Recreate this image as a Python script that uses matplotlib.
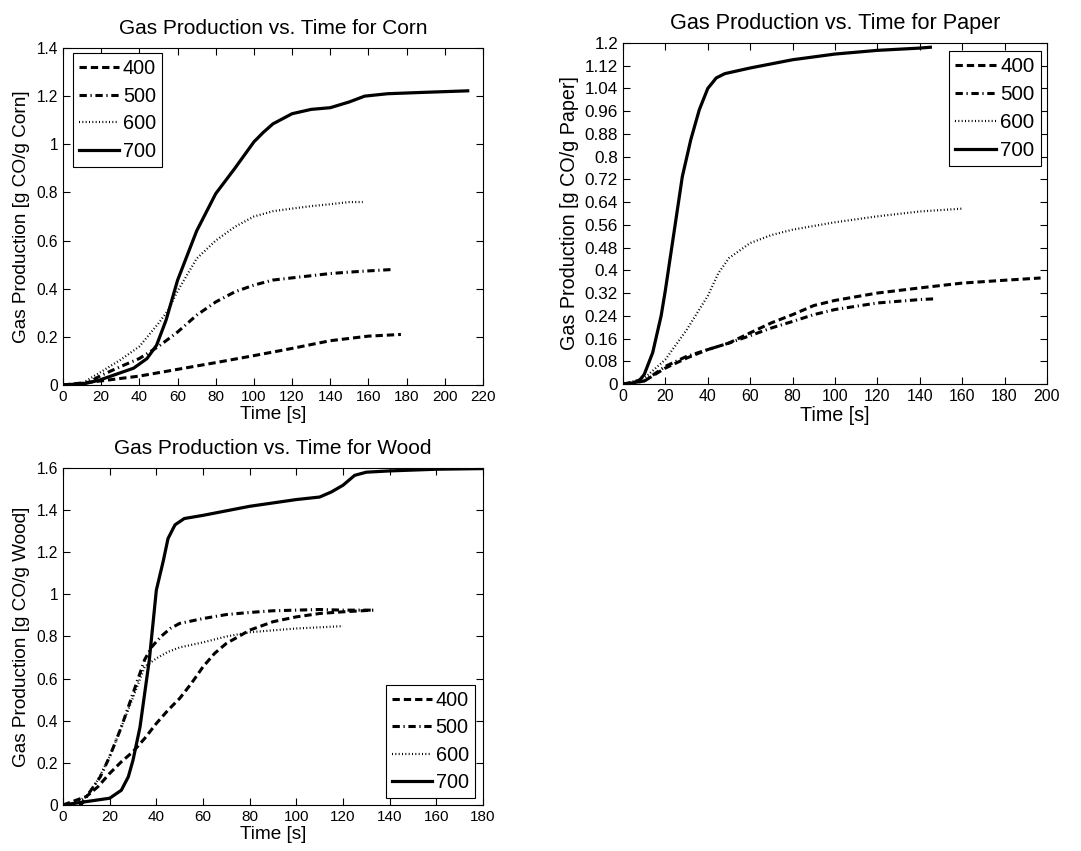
import matplotlib
matplotlib.use("Agg")
import matplotlib.pyplot as plt
import numpy as np

plt.rcParams['font.family'] = ['Liberation Sans', 'DejaVu Sans']

labels = ["400", "500", "600", "700"]

# ---- Corn ----
corn_t400 = [0, 20, 40, 60, 80, 100, 120, 140, 160, 177]
corn_y400 = [0, 0.017, 0.037, 0.065, 0.093, 0.122, 0.152, 0.184, 0.203, 0.21]
corn_t500 = [0, 12, 20, 30, 40, 50, 60, 70, 80, 90, 100, 110, 120, 130, 140, 150, 160, 173]
corn_y500 = [0, 0.005, 0.04, 0.076, 0.11, 0.16, 0.22, 0.29, 0.345, 0.387, 0.415, 0.436, 0.445, 0.454, 0.463, 0.469, 0.474, 0.48]
corn_t600 = [0, 10, 20, 30, 40, 50, 55, 60, 70, 80, 90, 100, 110, 120, 130, 140, 150, 157]
corn_y600 = [0, 0.007, 0.055, 0.104, 0.16, 0.256, 0.31, 0.39, 0.525, 0.6, 0.657, 0.7, 0.722, 0.733, 0.743, 0.751, 0.76, 0.76]
corn_t700 = [0, 12, 19, 37, 44, 49, 54, 60, 70, 80, 90, 100, 105, 110, 120, 130, 140, 150, 158, 170, 190, 212]
corn_y700 = [0, 0.007, 0.02, 0.07, 0.11, 0.165, 0.27, 0.435, 0.64, 0.795, 0.9, 1.01, 1.05, 1.085, 1.127, 1.145, 1.152, 1.176, 1.2, 1.21, 1.216, 1.222]

# ---- Paper ----
paper_t400 = [0, 10, 20, 30, 40, 50, 60, 70, 80, 90, 100, 120, 140, 160, 180, 197]
paper_y400 = [0, 0.01, 0.056, 0.091, 0.121, 0.144, 0.18, 0.215, 0.244, 0.276, 0.294, 0.32, 0.338, 0.355, 0.365, 0.373]
paper_t500 = [0, 10, 20, 30, 40, 50, 60, 70, 80, 90, 100, 120, 140, 148]
paper_y500 = [0, 0.01, 0.062, 0.097, 0.121, 0.144, 0.17, 0.197, 0.22, 0.244, 0.262, 0.285, 0.297, 0.30]
paper_t600 = [0, 10, 20, 30, 40, 45, 50, 60, 70, 80, 100, 120, 140, 160]
paper_y600 = [0, 0.02, 0.086, 0.19, 0.31, 0.39, 0.443, 0.496, 0.524, 0.543, 0.569, 0.59, 0.607, 0.617]
paper_t700 = [0, 5, 8, 10, 14, 18, 20, 24, 28, 32, 36, 40, 44, 48, 60, 80, 100, 120, 140, 145]
paper_y700 = [0, 0.004, 0.015, 0.033, 0.11, 0.24, 0.33, 0.53, 0.73, 0.86, 0.965, 1.04, 1.077, 1.092, 1.112, 1.141, 1.161, 1.174, 1.182, 1.185]

# ---- Wood ----
wood_t400 = [0, 10, 15, 20, 25, 30, 35, 40, 45, 50, 55, 60, 65, 70, 75, 80, 90, 100, 110, 120, 133]
wood_y400 = [0, 0.04, 0.087, 0.15, 0.205, 0.253, 0.316, 0.387, 0.45, 0.506, 0.577, 0.656, 0.72, 0.767, 0.798, 0.83, 0.87, 0.893, 0.909, 0.917, 0.925]
wood_t500 = [0, 8, 12, 16, 20, 25, 30, 35, 38, 42, 46, 50, 60, 70, 80, 90, 100, 110, 120, 132]
wood_y500 = [0, 0.005, 0.07, 0.134, 0.23, 0.37, 0.53, 0.69, 0.75, 0.8, 0.838, 0.862, 0.885, 0.904, 0.914, 0.922, 0.925, 0.928, 0.925, 0.925]
wood_t600 = [0, 5, 10, 15, 20, 25, 30, 35, 40, 45, 50, 60, 70, 80, 100, 120]
wood_y600 = [0, 0.008, 0.04, 0.12, 0.23, 0.37, 0.51, 0.656, 0.696, 0.727, 0.748, 0.772, 0.8, 0.82, 0.838, 0.849]
wood_t700 = [0, 10, 20, 25, 28, 30, 33, 35, 37, 40, 43, 45, 48, 52, 60, 80, 100, 110, 115, 120, 125, 130, 140, 160, 180]
wood_y700 = [0, 0.016, 0.032, 0.07, 0.134, 0.213, 0.37, 0.53, 0.69, 1.02, 1.16, 1.265, 1.33, 1.36, 1.375, 1.418, 1.45, 1.462, 1.486, 1.518, 1.565, 1.58, 1.586, 1.594, 1.597]

styles = [
    dict(linestyle=(0, (2.4, 1.3)), linewidth=2.2),
    dict(linestyle=(0, (2.4, 1.2, 0.4, 1.2)), linewidth=2.2),
    dict(linestyle=(0, (0.45, 1.05)), linewidth=1.6),
    dict(linestyle='-', linewidth=2.3),
]

fig = plt.figure(figsize=(10.81, 8.51), dpi=100)

def make_axes(rect, title, ylabel, series, xlim, xticks, ylim, yticks, legend_loc, legend_anchor,
              scale=1.0, ylabelpad=5):
    ax = fig.add_axes(rect)
    handles = []
    for (t, y), st, lab in zip(series, styles, labels):
        h, = ax.plot(t, y, color='black', label=lab, **st)
        handles.append(h)
    ax.set_xlim(*xlim)
    ax.set_ylim(*ylim)
    ax.set_xticks(xticks)
    ax.set_yticks(yticks)
    ax.set_yticklabels(["%g" % v for v in yticks])
    ax.tick_params(direction='in', top=True, right=True, length=5, width=0.8, pad=3.5)
    ax.tick_params(axis='x', labelsize=11 * scale)
    ax.tick_params(axis='y', labelsize=11.2 * scale * (1.06 if scale > 1 else 1.0))
    for s in ax.spines.values():
        s.set_linewidth(0.8)
    ax.set_title(title, fontsize=15 * scale, pad=10)
    ax.set_xlabel("Time [s]", fontsize=13.7 * scale, labelpad=1.5)
    ax.set_ylabel(ylabel, fontsize=13.7 * scale, labelpad=ylabelpad)
    leg = ax.legend(handles=handles, loc=legend_loc, bbox_to_anchor=legend_anchor,
                    prop={'size': 14.3 * scale}, handlelength=2.0, handletextpad=0.2,
                    borderpad=0.3, labelspacing=0.43, borderaxespad=0.0,
                    fancybox=False, framealpha=1, edgecolor='black')
    leg.get_frame().set_linewidth(0.8)
    return ax

make_axes([0.0583, 0.5476, 0.3885, 0.396], "Gas Production vs. Time for Corn",
          "Gas Production [g CO/g Corn]",
          [(corn_t400, corn_y400), (corn_t500, corn_y500), (corn_t600, corn_y600), (corn_t700, corn_y700)],
          (0, 220), np.arange(0, 221, 20), (0, 1.4), np.round(np.arange(0, 1.41, 0.2), 2),
          'upper left', (0.024, 0.985))

make_axes([0.5763, 0.5488, 0.3922, 0.4007], "Gas Production vs. Time for Paper",
          "Gas Production [g CO/g Paper]",
          [(paper_t400, paper_y400), (paper_t500, paper_y500), (paper_t600, paper_y600), (paper_t700, paper_y700)],
          (0, 200), np.arange(0, 201, 20), (0, 1.2), np.round(np.arange(0, 1.201, 0.08), 2),
          'upper right', (0.985, 0.976), scale=1.04, ylabelpad=4)

make_axes([0.0583, 0.0541, 0.3885, 0.396], "Gas Production vs. Time for Wood",
          "Gas Production [g CO/g Wood]",
          [(wood_t400, wood_y400), (wood_t500, wood_y500), (wood_t600, wood_y600), (wood_t700, wood_y700)],
          (0, 180), np.arange(0, 181, 20), (0, 1.6), np.round(np.arange(0, 1.61, 0.2), 2),
          'lower right', (0.98, 0.02))

fig.savefig("out.png", dpi=100)
